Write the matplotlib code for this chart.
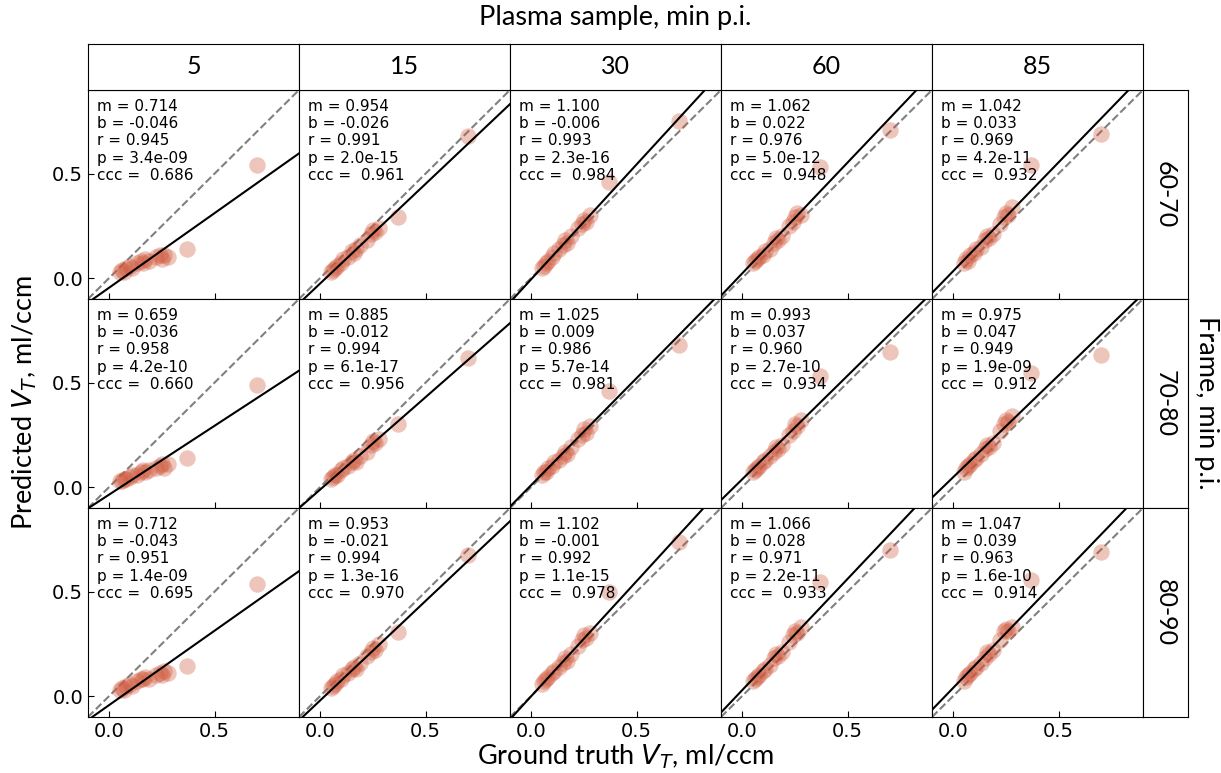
import numpy as np
import matplotlib.pyplot as plt

plasma_times = ['5', '15', '30', '60', '85']
frames = ['60-70', '70-80', '80-90']

# ground truth V_T (same subjects in every panel)
ground_truth = [0.05, 0.06, 0.07, 0.08, 0.10, 0.11, 0.13, 0.15, 0.16,
                0.17, 0.19, 0.22, 0.24, 0.25, 0.26, 0.28, 0.37, 0.70]

# predicted V_T, one list per plasma sample, for each frame
pred_60_70 = [
    [0.03, 0.04, 0.03, 0.05, 0.06, 0.05, 0.07, 0.08, 0.07, 0.09, 0.08, 0.10, 0.11, 0.09, 0.11, 0.10, 0.14, 0.54],
    [0.03, 0.04, 0.05, 0.06, 0.07, 0.09, 0.10, 0.13, 0.12, 0.14, 0.16, 0.18, 0.21, 0.23, 0.22, 0.24, 0.29, 0.68],
    [0.05, 0.06, 0.07, 0.08, 0.10, 0.12, 0.14, 0.16, 0.18, 0.17, 0.20, 0.24, 0.26, 0.28, 0.27, 0.30, 0.46, 0.75],
    [0.07, 0.08, 0.09, 0.10, 0.11, 0.13, 0.14, 0.17, 0.19, 0.18, 0.20, 0.25, 0.27, 0.29, 0.31, 0.30, 0.53, 0.71],
    [0.07, 0.09, 0.08, 0.11, 0.12, 0.14, 0.15, 0.18, 0.20, 0.19, 0.21, 0.26, 0.29, 0.31, 0.30, 0.34, 0.54, 0.69],
]
pred_70_80 = [
    [0.03, 0.03, 0.04, 0.04, 0.05, 0.06, 0.06, 0.07, 0.08, 0.07, 0.08, 0.09, 0.10, 0.11, 0.09, 0.11, 0.14, 0.49],
    [0.04, 0.05, 0.06, 0.06, 0.08, 0.09, 0.10, 0.12, 0.13, 0.12, 0.15, 0.17, 0.20, 0.22, 0.21, 0.23, 0.30, 0.62],
    [0.06, 0.07, 0.07, 0.09, 0.10, 0.12, 0.13, 0.15, 0.17, 0.16, 0.19, 0.23, 0.25, 0.28, 0.26, 0.29, 0.46, 0.68],
    [0.07, 0.08, 0.09, 0.10, 0.12, 0.13, 0.15, 0.17, 0.19, 0.18, 0.20, 0.25, 0.27, 0.30, 0.29, 0.32, 0.53, 0.645],
    [0.07, 0.09, 0.10, 0.11, 0.13, 0.14, 0.16, 0.18, 0.20, 0.19, 0.21, 0.27, 0.30, 0.32, 0.31, 0.34, 0.546, 0.63],
]
pred_80_90 = [
    [0.03, 0.04, 0.03, 0.05, 0.06, 0.05, 0.07, 0.08, 0.08, 0.09, 0.08, 0.10, 0.11, 0.10, 0.12, 0.11, 0.144, 0.536],
    [0.04, 0.05, 0.06, 0.07, 0.08, 0.10, 0.11, 0.13, 0.14, 0.13, 0.16, 0.19, 0.21, 0.23, 0.22, 0.25, 0.306, 0.675],
    [0.06, 0.07, 0.08, 0.09, 0.11, 0.12, 0.14, 0.16, 0.18, 0.17, 0.20, 0.24, 0.27, 0.29, 0.28, 0.30, 0.50, 0.737],
    [0.07, 0.08, 0.09, 0.10, 0.12, 0.13, 0.15, 0.18, 0.20, 0.19, 0.21, 0.26, 0.29, 0.31, 0.30, 0.33, 0.546, 0.70],
    [0.07, 0.09, 0.10, 0.11, 0.13, 0.14, 0.16, 0.18, 0.21, 0.20, 0.22, 0.27, 0.31, 0.32, 0.31, 0.33, 0.556, 0.69],
]
predictions = [pred_60_70, pred_70_80, pred_80_90]

# fit statistics printed in each panel (rows = frames, cols = plasma samples)
slopes = [[0.714, 0.954, 1.100, 1.062, 1.042],
          [0.659, 0.885, 1.025, 0.993, 0.975],
          [0.712, 0.953, 1.102, 1.066, 1.047]]
intercepts = [[-0.046, -0.026, -0.006, 0.022, 0.033],
              [-0.036, -0.012, 0.009, 0.037, 0.047],
              [-0.043, -0.021, -0.001, 0.028, 0.039]]
r_values = [[0.945, 0.991, 0.993, 0.976, 0.969],
            [0.958, 0.994, 0.986, 0.960, 0.949],
            [0.951, 0.994, 0.992, 0.971, 0.963]]
p_values = [[3.4e-09, 2.0e-15, 2.3e-16, 5.0e-12, 4.2e-11],
            [4.2e-10, 6.1e-17, 5.7e-14, 2.7e-10, 1.9e-09],
            [1.4e-09, 1.3e-16, 1.1e-15, 2.2e-11, 1.6e-10]]
ccc_values = [[0.686, 0.961, 0.984, 0.948, 0.932],
              [0.660, 0.956, 0.981, 0.934, 0.912],
              [0.695, 0.970, 0.978, 0.933, 0.914]]

W, H = 1221, 773
fig = plt.figure(figsize=(W / 100, H / 100), dpi=100)

left, top = 88, 90
pw, ph = 211, 209
lims = (-0.1, 0.9)
dot_color = '#cf5a3e'
lab_font = 'Lato'

for i in range(len(frames)):
    for j in range(len(plasma_times)):
        x0 = left + j * pw
        y0 = top + i * ph
        ax = fig.add_axes([x0 / W, 1 - (y0 + ph) / H, pw / W, ph / H])
        ax.scatter(ground_truth, predictions[i][j], s=140, color=dot_color,
                   alpha=0.35, linewidths=0, zorder=2)
        ax.axline((0, 0), slope=1, color='gray', ls='--', lw=1.5, zorder=1)
        ax.axline((0, intercepts[i][j]), slope=slopes[i][j], color='black', lw=1.5, zorder=3)
        ax.set_xlim(lims)
        ax.set_ylim(lims)
        ax.set_xticks([0.0, 0.5])
        ax.set_yticks([0.0, 0.5])
        ax.tick_params(direction='in', labelsize=14, length=4)
        if j > 0:
            ax.tick_params(labelleft=False, left=False)
        if i < len(frames) - 1:
            ax.tick_params(labelbottom=False)
        txt = (f"m = {slopes[i][j]:.3f}\n"
               f"b = {intercepts[i][j]:.3f}\n"
               f"r = {r_values[i][j]:.3f}\n"
               f"p = {p_values[i][j]:.1e}\n"
               f"ccc =  {ccc_values[i][j]:.3f}")
        ax.text(0.045, 0.955, txt, transform=ax.transAxes, va='top', ha='left',
                fontsize=11, linespacing=1.17, zorder=4)

# column headers
for j, lab in enumerate(plasma_times):
    x0 = left + j * pw
    hax = fig.add_axes([x0 / W, 1 - top / H, pw / W, 46 / H])
    hax.set_xticks([])
    hax.set_yticks([])
    hax.text(0.5, 0.5, lab, ha='center', va='center', fontsize=18, family=lab_font,
             transform=hax.transAxes)

# row headers
for i, lab in enumerate(frames):
    y0 = top + i * ph
    rax = fig.add_axes([(left + 5 * pw) / W, 1 - (y0 + ph) / H, 45 / W, ph / H])
    rax.set_xticks([])
    rax.set_yticks([])
    rax.text(0.5, 0.5, lab, ha='center', va='center', fontsize=18, rotation=270,
             family=lab_font, transform=rax.transAxes)

fig.text(615 / W, 1 - 18 / H, 'Plasma sample, min p.i.', ha='center', va='center',
         fontsize=19.5, family=lab_font)
fig.text(626 / W, 1 - 757 / H, 'Ground truth $V_T$, ml/ccm', ha='center', va='center',
         fontsize=19.5, family=lab_font)
fig.text(25 / W, 1 - 403 / H, 'Predicted $V_T$, ml/ccm', ha='center', va='center',
         fontsize=19.5, rotation=90, family=lab_font)
fig.text(1207 / W, 1 - 403 / H, 'Frame, min p.i.', ha='center', va='center',
         fontsize=19.5, rotation=270, family=lab_font)

fig.savefig('out.png', dpi=100)
